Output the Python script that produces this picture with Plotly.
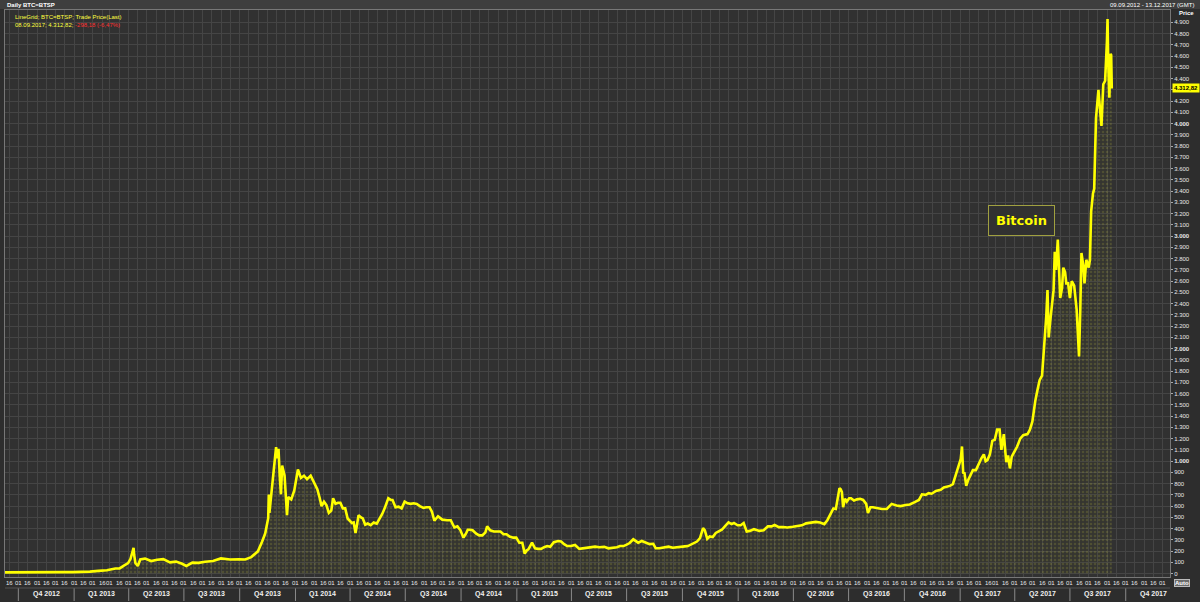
import pandas as pd
import plotly.graph_objects as go

# ---- data (BTC=BTSP daily trade price, USD) ----
dates = [
    "2012-09-09", "2012-09-23", "2012-10-07", "2012-10-21", "2012-11-04", "2012-11-18",
    "2012-12-02", "2012-12-16", "2012-12-30",
    "2013-01-13", "2013-01-27", "2013-02-10", "2013-02-24", "2013-03-10", "2013-03-17",
    "2013-03-24", "2013-03-31", "2013-04-04", "2013-04-09", "2013-04-10", "2013-04-12",
    "2013-04-16", "2013-04-20", "2013-04-28", "2013-05-08", "2013-05-18", "2013-05-28",
    "2013-06-08", "2013-06-18", "2013-06-28", "2013-07-05", "2013-07-15", "2013-07-25",
    "2013-08-05", "2013-08-18", "2013-08-31", "2013-09-15", "2013-09-30", "2013-10-10",
    "2013-10-20", "2013-10-31", "2013-11-07", "2013-11-12", "2013-11-17", "2013-11-18",
    "2013-11-19", "2013-11-24", "2013-11-28", "2013-11-30", "2013-12-02", "2013-12-04",
    "2013-12-06", "2013-12-08", "2013-12-10", "2013-12-14", "2013-12-18", "2013-12-20",
    "2013-12-25", "2013-12-30",
    "2014-01-05", "2014-01-10", "2014-01-15", "2014-01-20", "2014-01-26", "2014-01-31",
    "2014-02-06", "2014-02-10", "2014-02-13", "2014-02-17", "2014-02-21", "2014-02-25",
    "2014-03-01", "2014-03-04", "2014-03-08", "2014-03-12", "2014-03-16", "2014-03-20",
    "2014-03-24", "2014-03-28", "2014-04-01", "2014-04-04", "2014-04-07", "2014-04-10",
    "2014-04-12", "2014-04-15", "2014-04-19", "2014-04-22", "2014-04-26", "2014-04-30",
    "2014-05-05", "2014-05-10", "2014-05-15", "2014-05-20", "2014-05-24", "2014-05-28",
    "2014-06-03", "2014-06-07", "2014-06-10", "2014-06-15", "2014-06-20", "2014-06-25",
    "2014-06-30", "2014-07-05", "2014-07-10", "2014-07-15", "2014-07-20", "2014-07-25",
    "2014-07-31", "2014-08-05", "2014-08-10", "2014-08-14", "2014-08-18", "2014-08-24",
    "2014-08-31", "2014-09-08", "2014-09-14", "2014-09-20", "2014-09-25", "2014-09-30",
    "2014-10-05", "2014-10-09", "2014-10-12", "2014-10-16", "2014-10-20", "2014-10-26",
    "2014-10-31", "2014-11-05", "2014-11-10", "2014-11-13", "2014-11-18", "2014-11-24",
    "2014-11-30", "2014-12-05", "2014-12-10", "2014-12-15", "2014-12-20", "2014-12-26",
    "2014-12-31",
    "2015-01-05", "2015-01-10", "2015-01-14", "2015-01-17", "2015-01-20", "2015-01-26",
    "2015-01-31", "2015-02-05", "2015-02-10", "2015-02-15", "2015-02-20", "2015-02-25",
    "2015-03-03", "2015-03-10", "2015-03-15", "2015-03-20", "2015-03-25", "2015-03-31",
    "2015-04-07", "2015-04-14", "2015-04-20", "2015-04-25", "2015-05-02", "2015-05-10",
    "2015-05-17", "2015-05-25", "2015-06-01", "2015-06-10", "2015-06-15", "2015-06-20",
    "2015-06-26", "2015-07-01", "2015-07-06", "2015-07-12", "2015-07-16", "2015-07-20",
    "2015-07-26", "2015-08-01", "2015-08-08", "2015-08-14", "2015-08-18", "2015-08-24",
    "2015-08-31", "2015-09-08", "2015-09-15", "2015-09-22", "2015-09-30", "2015-10-05",
    "2015-10-10", "2015-10-18", "2015-10-25", "2015-10-30", "2015-11-02", "2015-11-04",
    "2015-11-07", "2015-11-11", "2015-11-15", "2015-11-20", "2015-11-25", "2015-11-30",
    "2015-12-05", "2015-12-10", "2015-12-16", "2015-12-21", "2015-12-25", "2015-12-31",
    "2016-01-05", "2016-01-10", "2016-01-15", "2016-01-20", "2016-01-27", "2016-02-05",
    "2016-02-12", "2016-02-19", "2016-02-25", "2016-03-01", "2016-03-08", "2016-03-15",
    "2016-03-22", "2016-03-31", "2016-04-08", "2016-04-15", "2016-04-22", "2016-04-30",
    "2016-05-08", "2016-05-15", "2016-05-22", "2016-05-27", "2016-06-02", "2016-06-06",
    "2016-06-10", "2016-06-13", "2016-06-16", "2016-06-18", "2016-06-20", "2016-06-22",
    "2016-06-25", "2016-06-28", "2016-07-02", "2016-07-05", "2016-07-10", "2016-07-15",
    "2016-07-20", "2016-07-25", "2016-07-30", "2016-08-02", "2016-08-06", "2016-08-10",
    "2016-08-17", "2016-08-25", "2016-09-02", "2016-09-10", "2016-09-18", "2016-09-25",
    "2016-10-03", "2016-10-10", "2016-10-18", "2016-10-25", "2016-10-30", "2016-11-05",
    "2016-11-10", "2016-11-15", "2016-11-22", "2016-11-30", "2016-12-05", "2016-12-10",
    "2016-12-15", "2016-12-20", "2016-12-25", "2016-12-30",
    "2017-01-02", "2017-01-04", "2017-01-06", "2017-01-08", "2017-01-11", "2017-01-14",
    "2017-01-18", "2017-01-22", "2017-01-27", "2017-02-01", "2017-02-05", "2017-02-09",
    "2017-02-12", "2017-02-15", "2017-02-19", "2017-02-23", "2017-02-27", "2017-03-03",
    "2017-03-07", "2017-03-10", "2017-03-14", "2017-03-18", "2017-03-21", "2017-03-24",
    "2017-03-27", "2017-03-31", "2017-04-05", "2017-04-10", "2017-04-15", "2017-04-22",
    "2017-04-26", "2017-04-30", "2017-05-03", "2017-05-05", "2017-05-08", "2017-05-12",
    "2017-05-16", "2017-05-20", "2017-05-23", "2017-05-25", "2017-05-27", "2017-05-29",
    "2017-06-01", "2017-06-04", "2017-06-06", "2017-06-08", "2017-06-11", "2017-06-13",
    "2017-06-15", "2017-06-18", "2017-06-20", "2017-06-23", "2017-06-25", "2017-06-28",
    "2017-07-01", "2017-07-04", "2017-07-08", "2017-07-12", "2017-07-14", "2017-07-16",
    "2017-07-18", "2017-07-20", "2017-07-23", "2017-07-25", "2017-07-28", "2017-08-01",
    "2017-08-03", "2017-08-05", "2017-08-08", "2017-08-10", "2017-08-13", "2017-08-15",
    "2017-08-17", "2017-08-20", "2017-08-22", "2017-08-25", "2017-08-28", "2017-08-31",
    "2017-09-01", "2017-09-02", "2017-09-04", "2017-09-06", "2017-09-07", "2017-09-08",
]
prices = [
    11.0, 12.2, 11.9, 11.7, 10.8, 11.8,
    12.6, 13.3, 13.4,
    14.3, 17.8, 24.0, 30.0, 46, 47,
    71, 93, 132, 230, 165, 94,
    68, 126, 134, 112, 123, 129,
    100, 107, 88, 68, 98, 96,
    106, 112, 135, 126, 128, 125,
    147, 198, 286, 356, 493, 703,
    540, 798, 1000, 1125, 1025, 1110,
    870, 705, 960, 870, 520, 680,
    660, 740,
    925, 850, 870, 840, 870, 815,
    750, 670, 600, 640, 610, 540,
    560, 670, 620, 630, 630, 580,
    580, 490, 470, 450, 455, 360,
    420, 520, 500, 490, 435, 445,
    430, 455, 445, 490, 530, 580,
    670, 655, 655, 590, 595, 580,
    640, 625, 620, 625, 620, 600,
    585, 590, 590, 550, 470, 510,
    480, 475, 475, 410, 420, 385,
    320, 355, 390, 390, 385, 355,
    340, 340, 365, 420, 385, 375,
    378, 375, 350, 350, 330, 320,
    320,
    275, 275, 178, 205, 215, 275,
    225, 220, 220, 235, 245, 238,
    280, 290, 285, 262, 245, 245,
    255, 220, 225, 225, 235, 240,
    235, 238, 225, 229, 235, 245,
    245, 258, 272, 305, 290, 275,
    290, 280, 262, 265, 225, 225,
    230, 240, 230, 232, 236, 242,
    245, 265, 285, 315, 360, 405,
    385, 310, 330, 325, 362, 378,
    390, 420, 455, 440, 450, 430,
    430, 450, 375, 380, 395, 380,
    385, 420, 420, 432, 413, 415,
    410, 416, 420, 429, 447, 455,
    460, 455, 440, 475, 535, 580,
    575, 690, 760, 750, 725, 590,
    665, 640, 670, 670, 650, 660,
    665, 655, 620, 540, 590, 590,
    580, 575, 575, 620, 605, 600,
    610, 615, 635, 655, 705, 700,
    715, 710, 735, 745, 765, 770,
    780, 795, 880, 960,
    1020, 1130, 890, 900, 780, 830,
    870, 920, 920, 985, 1025, 1060,
    1000, 1010, 1060, 1180, 1190, 1280,
    1280, 1100, 1240, 990, 1050, 935,
    1040, 1080, 1130, 1200, 1230, 1240,
    1280, 1350, 1480, 1540, 1620, 1720,
    1760, 2050, 2290, 2520, 2100, 2220,
    2400, 2520, 2860, 2700, 2970, 2640,
    2450, 2540, 2720, 2680, 2580, 2580,
    2450, 2600, 2560, 2350, 2150, 1930,
    2330, 2850, 2740, 2580, 2790, 2720,
    2790, 3220, 3380, 3420, 4050, 4200,
    4300, 4100, 3980, 4350, 4380, 4730,
    4930, 4580, 4230, 4620, 4610, 4312.82,
]

quarter_labels = [
    "Q4 2012", "Q1 2013", "Q2 2013", "Q3 2013", "Q4 2013", "Q1 2014", "Q2 2014",
    "Q3 2014", "Q4 2014", "Q1 2015", "Q2 2015", "Q3 2015", "Q4 2015", "Q1 2016",
    "Q2 2016", "Q3 2016", "Q4 2016", "Q1 2017", "Q2 2017", "Q3 2017", "Q4 2017",
]
quarter_starts = [
    "2012-10-01", "2013-01-01", "2013-04-01", "2013-07-01", "2013-10-01", "2014-01-01",
    "2014-04-01", "2014-07-01", "2014-10-01", "2015-01-01", "2015-04-01", "2015-07-01",
    "2015-10-01", "2016-01-01", "2016-04-01", "2016-07-01", "2016-10-01", "2017-01-01",
    "2017-04-01", "2017-07-01", "2017-10-01",
]
x_start, x_end = "2012-09-09", "2017-12-13"
y_tick_values = list(range(0, 5000, 100))
last_label = "4.312,82"

# ---- derived tick labels ----
half_month_ticks = [d for d in pd.date_range("2012-09-01", "2017-12-31", freq="D")
                    if d.day in (1, 16) and pd.Timestamp(x_start) <= d <= pd.Timestamp(x_end)]
x_tickvals = [d.strftime("%Y-%m-%d") for d in half_month_ticks]
x_ticktext = [d.strftime("%d") for d in half_month_ticks]


def fmt_price(v):
    if v == 4300:
        return ""  # covered by the last-price box
    s = f"{v:,}".replace(",", ".")
    return f"<b>{s}</b>" if v % 1000 == 0 and v > 0 else s


y_ticktext = [fmt_price(v) for v in y_tick_values]

BG = "#2d2d2d"
PLOT_BG = "#313131"
GRID = "#454545"
YELLOW = "#ffff00"
FONT = "Liberation Sans"

fig = go.Figure()
fig.add_trace(go.Scatter(
    x=dates, y=prices, mode="lines",
    line=dict(color=YELLOW, width=2.6),
    fill="tozeroy",
    fillcolor="rgba(90,90,35,0.10)",
    fillpattern=dict(shape=".", fgcolor="rgba(210,210,70,0.32)",
                     bgcolor="rgba(90,90,35,0.10)", size=4, solidity=0.3),
    hoverinfo="x+y", showlegend=False,
))

L, R, T, B = 5, 30, 10, 25
W, H = 1200, 602
ph = H - T - B
pw = W - L - R

fig.update_layout(
    width=W, height=H,
    paper_bgcolor=BG, plot_bgcolor=PLOT_BG,
    margin=dict(l=L, r=R, t=T, b=B, autoexpand=False),
    font=dict(family=FONT, color="#e0e0e0", size=6),
    xaxis=dict(
        range=[x_start, x_end], type="date",
        tickvals=x_tickvals, ticktext=x_ticktext,
        showticklabels=False, ticks="",
        showgrid=True, gridcolor=GRID, gridwidth=1,
        showline=True, linecolor="#777", mirror=True,
        zeroline=False, fixedrange=True, automargin=False,
    ),
    yaxis=dict(
        range=[-30, 5010], side="right",
        tickvals=y_tick_values, ticktext=y_ticktext,
        tickfont=dict(size=6, color="#e8e8e8", family=FONT),
        ticks="outside", ticklen=2, tickcolor="#aaa",
        showgrid=True, gridcolor=GRID, gridwidth=1,
        showline=True, linecolor="#777", mirror=True,
        zeroline=False, fixedrange=True, automargin=False,
    ),
)

shapes = []
# top bar
shapes.append(dict(type="rect", xref="paper", yref="paper",
                   x0=-L / pw, x1=1 + R / pw, y0=1 + 1 / ph, y1=1 + T / ph,
                   fillcolor="#3e3e3e", line=dict(width=0), layer="below"))
# quarter separators under the tick row
for qs in quarter_starts:
    shapes.append(dict(type="line", xref="x", yref="paper",
                       x0=qs, x1=qs, y0=-11 / ph, y1=-24 / ph,
                       line=dict(color="#8a8a8a", width=1)))
shapes.append(dict(type="line", xref="paper", yref="paper",
                   x0=0, x1=1, y0=-11 / ph, y1=-11 / ph,
                   line=dict(color="#555", width=1)))
fig.update_layout(shapes=shapes)

ann = []
# half-month tick labels
for tv, tt in zip(x_tickvals, x_ticktext):
    ann.append(dict(x=tv, xref="x", y=-6 / ph, yref="paper", text=tt,
                    showarrow=False, xanchor="center", yanchor="middle",
                    font=dict(size=6, color="#e8e8e8", family=FONT)))
# quarter labels
for i, q in enumerate(quarter_labels):
    s = pd.Timestamp(quarter_starts[i])
    e = pd.Timestamp(quarter_starts[i + 1]) if i + 1 < len(quarter_starts) else s + pd.Timedelta(days=92)
    mid = s + (e - s) / 2
    ann.append(dict(x=mid.strftime("%Y-%m-%d"), xref="x", y=-17 / ph, yref="paper",
                    text=f"<b>{q}</b>", showarrow=False, xanchor="center", yanchor="middle",
                    font=dict(size=7, color="#f0f0f0", family=FONT)))
# header texts
ann.append(dict(x=0, xref="paper", y=1 + 5 / ph, yref="paper", text="<b>Daily BTC=BTSP</b>",
                showarrow=False, xanchor="left", yanchor="middle",
                font=dict(size=6, color="#ffffff", family=FONT)))
ann.append(dict(x=1 + 26 / pw, xref="paper", y=1 + 5 / ph, yref="paper",
                text="09.09.2012 - 13.12.2017 (GMT)",
                showarrow=False, xanchor="right", yanchor="middle",
                font=dict(size=6, color="#ffffff", family=FONT)))
ann.append(dict(x=8 / pw, xref="paper", y=1 - 7 / ph, yref="paper",
                text="LineGrid; BTC=BTSP; Trade Price(Last)",
                showarrow=False, xanchor="left", yanchor="middle",
                font=dict(size=6, color="#ffff40", family=FONT)))
ann.append(dict(x=8 / pw, xref="paper", y=1 - 15 / ph, yref="paper",
                text='08.09.2017; 4.312,82; <span style="color:#ff3030">-298,18 (-6,47%)</span>',
                showarrow=False, xanchor="left", yanchor="middle",
                font=dict(size=6, color="#ffff40", family=FONT)))
ann.append(dict(x=1 + 7 / pw, xref="paper", y=1 - 3 / ph, yref="paper", text="<b>Price</b>",
                showarrow=False, xanchor="left", yanchor="middle",
                font=dict(size=6, color="#ffffff", family=FONT)))
# last price marker
ann.append(dict(x=1 + 2 / pw, xref="paper", y=prices[-1], yref="y",
                text=f"<b>{last_label}</b>", showarrow=False, xanchor="left", yanchor="middle",
                bgcolor="#ffff00", borderpad=1,
                font=dict(size=6, color="#000000", family=FONT)))
# Auto button
ann.append(dict(x=1 + 4 / pw, xref="paper", y=-6 / ph, yref="paper", text="<b>Auto</b>",
                showarrow=False, xanchor="left", yanchor="middle",
                bgcolor="#6a6a6a", bordercolor="#bbbbbb", borderwidth=1, borderpad=0,
                font=dict(size=6, color="#ffffff", family=FONT)))
# Bitcoin label
ann.append(dict(x="2017-04-12", xref="x", y=3140, yref="y", text="<b>Bitcoin</b>",
                showarrow=False, xanchor="center", yanchor="middle",
                bgcolor=PLOT_BG, bordercolor="#a0a040", borderwidth=1, borderpad=7,
                font=dict(size=13, color=YELLOW, family="DejaVu Sans")))
fig.update_layout(annotations=ann)

fig.write_html(
    "out.html",
    config={"displayModeBar": False},
    post_script="document.body.style.margin='0';document.body.style.overflow='hidden';"
                "document.documentElement.style.overflow='hidden';",
)
